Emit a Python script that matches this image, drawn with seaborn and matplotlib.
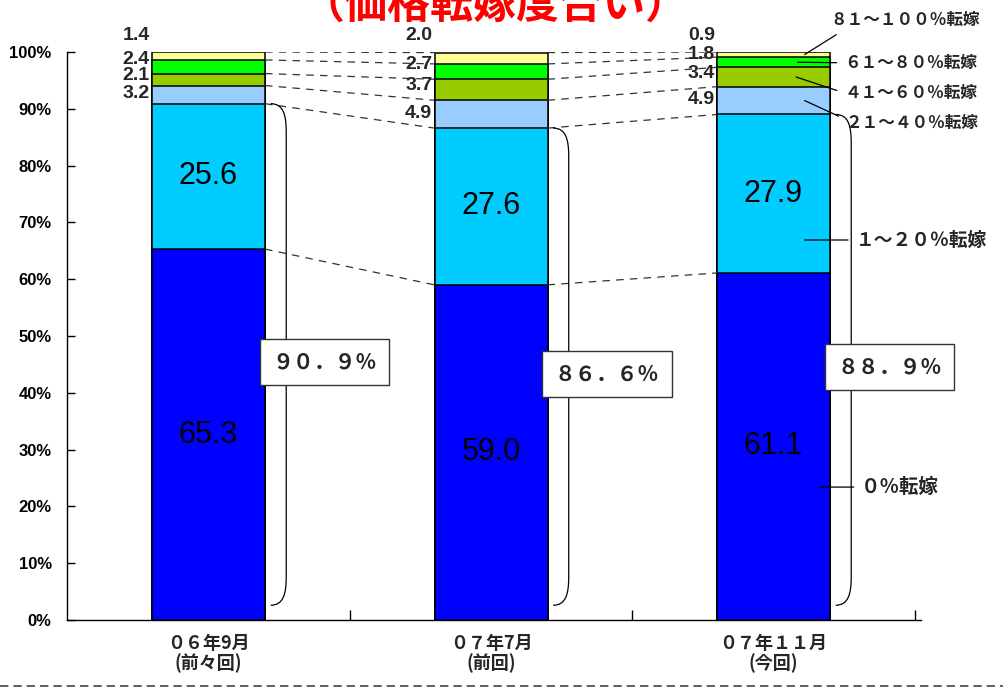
import numpy as np
import pandas as pd
import matplotlib
matplotlib.use('Agg')
import matplotlib.pyplot as plt
from matplotlib.path import Path
from matplotlib.patches import PathPatch
from matplotlib.lines import Line2D
import seaborn as sns

sns.set_theme(style='white')
plt.rcParams['font.family'] = ['Noto Sans CJK JP', 'DejaVu Sans']
NUM_FONT = ['Liberation Sans', 'DejaVu Sans']
JP_FONT = ['Noto Sans CJK JP', 'DejaVu Sans']

# データ（下から順に積み上げ）
periods = ['０６年9月\n(前々回)', '０７年7月\n(前回)', '０７年１１月\n(今回)']
layers = ['0%転嫁', '1～20%転嫁', '21～40%転嫁', '41～60%転嫁', '61～80%転嫁', '81～100%転嫁']
layer_labels = ['０％転嫁', '１～２０％転嫁', '２１～４０％転嫁', '４１～６０％転嫁', '６１～８０％転嫁', '８１～１００％転嫁']
v_0 = [65.3, 59.0, 61.1]
v_1_20 = [25.6, 27.6, 27.9]
v_21_40 = [3.2, 4.9, 4.9]
v_41_60 = [2.1, 3.7, 3.4]
v_61_80 = [2.4, 2.7, 1.8]
v_81_100 = [1.4, 2.0, 0.9]
totals_label = ['９０．９％', '８６．６％', '８８．９％']
colors = ['#0000FF', '#00CCFF', '#99CCFF', '#99CC00', '#00FF00', '#FFFF99']

vals = np.array([v_0, v_1_20, v_21_40, v_41_60, v_61_80, v_81_100])
cum = vals.cumsum(axis=0)
df = pd.DataFrame({'時期': periods})
for k, name in enumerate(layers):
    df[name] = cum[k]

fig = plt.figure(figsize=(10.04, 6.90), dpi=100)
ax = fig.add_axes([67 / 1004, 1 - 620 / 690, (921 - 67) / 1004, (620 - 52) / 690])

# 積み上げ棒（累積値を上から順に重ねる）
bw = 0.4
for k in range(len(layers) - 1, -1, -1):
    sns.barplot(data=df, x='時期', y=layers[k], color=colors[k], width=bw,
                edgecolor='black', linewidth=1.1, saturation=1, ax=ax)

ax.set_xlim(-0.501, 2.522)
ax.set_ylim(0, 100)
ax.set_xlabel('')
ax.set_ylabel('')

# 棒間の破線
for i in range(len(periods) - 1):
    for k in range(len(layers)):
        ax.plot([i + bw / 2, i + 1 - bw / 2], [cum[k, i], cum[k, i + 1]],
                color='#333333', lw=0.9, dashes=(6, 5), zorder=1)

# 数値ラベル
small_offset = {2: 0.2, 3: 0.7, 4: 1.3}
for i in range(len(periods)):
    for k in range(2):
        ax.text(i, cum[k, i] - vals[k, i] / 2, f'{vals[k, i]:.1f}', ha='center', va='center',
                fontsize=22, family=NUM_FONT, color='black', zorder=5)
    for k in range(2, 5):
        ax.text(i - bw / 2 - 0.008, cum[k, i] - vals[k, i] / 2 + small_offset[k], f'{vals[k, i]:.1f}',
                ha='right', va='center', fontsize=14, weight='bold', family=NUM_FONT, zorder=5)
    ax.text(i - bw / 2 - 0.008, 100 + 2.9, f'{vals[5, i]:.1f}', ha='right', va='center',
            fontsize=14, weight='bold', family=NUM_FONT, zorder=5, clip_on=False)

# 括弧と合計ボックス
for i in range(len(periods)):
    top = cum[1, i]
    bot = 2.6
    x0 = i + bw / 2 + 0.02
    x1 = i + bw / 2 + 0.075
    verts = [(x0, top), (x1 - 0.01, top), (x1, top - 2), (x1, top - 5),
             (x1, bot + 5), (x1, bot + 2), (x1 - 0.01, bot), (x0, bot)]
    codes = [Path.MOVETO, Path.CURVE4, Path.CURVE4, Path.CURVE4,
             Path.LINETO, Path.CURVE4, Path.CURVE4, Path.CURVE4]
    ax.add_patch(PathPatch(Path(verts, codes), fill=False, lw=0.9, color='black', zorder=3))
    ax.text(i + bw / 2 + 0.21, top / 2, totals_label[i], ha='center', va='center',
            fontsize=15, weight='bold', family=JP_FONT, zorder=6,
            bbox=dict(boxstyle='square,pad=0.6', fc='white', ec='#333333', lw=1.0))

# 右側の凡例ラベル
label_y = [23.4, 66.9, 87.5, 92.8, 98.1, 105.6]
point_x = [2.165, 2.11, 2.11, 2.08, 2.085, 2.11]
point_y = [23.4, 66.9, cum[2, 2] - vals[2, 2] / 2, cum[3, 2] - vals[3, 2] / 2,
           cum[4, 2] - vals[4, 2] / 2, cum[5, 2] - vals[5, 2] / 2]
text_x = [2.31, 2.29, 2.255, 2.25, 2.25, 2.2]
label_size = [14, 13.5, 12, 12, 12, 12]
relpos = [(0, 0.5), (0, 0.5), (0, 0.7), (0, 0.5), (0, 0.5), (0.1, 0.0)]
for k in range(len(layers)):
    ax.annotate(layer_labels[k], xy=(point_x[k], point_y[k]), xytext=(text_x[k], label_y[k]),
                ha='left', va='center', fontsize=label_size[k], weight='bold', family=JP_FONT,
                annotation_clip=False,
                arrowprops=dict(arrowstyle='-', lw=0.9, color='black', relpos=relpos[k],
                                shrinkA=3, shrinkB=0))

# 軸の体裁
sns.despine(ax=ax, top=True, right=True)
for s in ['left', 'bottom']:
    ax.spines[s].set_color('black')
    ax.spines[s].set_linewidth(1.0)
ax.set_yticks(np.arange(0, 101, 10))
ax.set_yticklabels([f'{t}%' for t in range(0, 101, 10)], fontsize=12, weight='bold', family=NUM_FONT)
ax.tick_params(axis='y', direction='in', length=6, width=1, pad=11, left=True, colors='black')
ax.set_xticks(range(len(periods)))
ax.set_xticklabels(periods, fontsize=13, weight='bold', family=JP_FONT, linespacing=1.05)
ax.tick_params(axis='x', length=0, pad=10)
ax.set_xticks([0.5, 1.5, 2.5], minor=True)
ax.tick_params(axis='x', which='minor', direction='in', length=7, width=1, bottom=True, colors='black')
ax.grid(False)

# タイトル（上端で切れている）
fig.text(0.493, 1 - 18 / 690, '（価格転嫁度合い）', ha='center', va='baseline', fontsize=31,
         weight='bold', color='#FF0000', family=JP_FONT)

# 下部の破線
fig.add_artist(Line2D([0, 1], [1 - 686 / 690, 1 - 686 / 690], transform=fig.transFigure,
                      color='#444444', lw=1.2, dashes=(5, 3)))

fig.savefig('out.png', dpi=100)
